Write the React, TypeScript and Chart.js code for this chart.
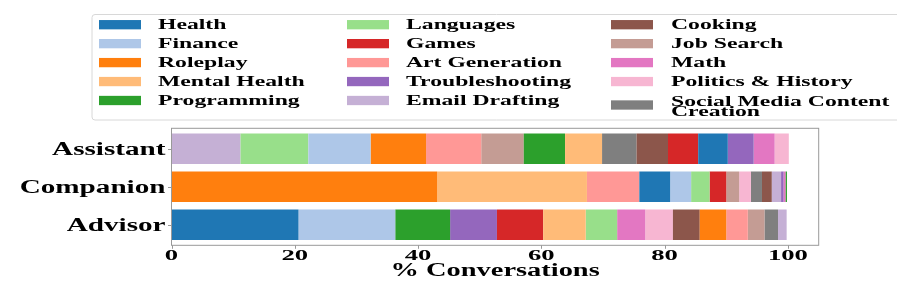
import { useEffect, useRef } from 'react';
import { Chart, registerables } from 'chart.js';

Chart.register(...registerables);

const rows = ['Assistant', 'Companion', 'Advisor'];

const categories = [
  'Health',
  'Finance',
  'Roleplay',
  'Mental Health',
  'Programming',
  'Languages',
  'Games',
  'Art Generation',
  'Troubleshooting',
  'Email Drafting',
  'Cooking',
  'Job Search',
  'Math',
  'Politics & History',
  'Social Media Content\nCreation',
];

const colors = [
  '#1f77b4', '#aec7e8', '#ff7f0e', '#ffbb78', '#2ca02c',
  '#98df8a', '#d62728', '#ff9896', '#9467bd', '#c5b0d5',
  '#8c564b', '#c49c94', '#e377c2', '#f7b6d2', '#7f7f7f',
];

// % of conversations per category (same order as categories)
const assistantValues = [4.8, 10.1, 9.0, 6.0, 6.7, 11.0, 4.9, 8.95, 4.2, 11.2, 5.1, 6.9, 3.4, 2.3, 5.6];
const companionValues = [5.0, 3.4, 43.1, 24.3, 0.2, 3.0, 2.7, 8.5, 0.4, 1.5, 1.6, 2.1, 0.35, 1.9, 1.8];
const advisorValues = [20.6, 15.7, 4.3, 6.9, 8.9, 5.1, 7.5, 3.5, 7.6, 1.4, 4.35, 2.7, 4.55, 4.5, 2.2];

const xTicks = [0, 20, 40, 60, 80, 100];
const xTitle = '% Conversations';

// each row is stacked largest-first
function stackRow(values: number[]): [number, number][] {
  const order = values.map((_, i) => i).sort((a, b) => values[b] - values[a]);
  const spans: [number, number][] = new Array(values.length);
  let acc = 0;
  for (const i of order) {
    spans[i] = [acc, acc + values[i]];
    acc += values[i];
  }
  return spans;
}

const FONT_FAMILY = '"Liberation Serif", "Times New Roman", serif';

function fontOf(size: number) {
  return `bold ${size}px ${FONT_FAMILY}`;
}

function scaleFor(ctx: CanvasRenderingContext2D, size: number, ref: string, target: number) {
  ctx.save();
  ctx.font = fontOf(size);
  const w = ctx.measureText(ref).width;
  ctx.restore();
  return w > 0 ? target / w : 1;
}

function drawText(
  ctx: CanvasRenderingContext2D,
  text: string,
  x: number,
  y: number,
  size: number,
  sx: number,
  align: CanvasTextAlign,
) {
  ctx.save();
  ctx.font = fontOf(size);
  ctx.fillStyle = '#000';
  ctx.textAlign = align;
  ctx.textBaseline = 'alphabetic';
  ctx.translate(x, y);
  ctx.scale(sx, 1);
  ctx.fillText(text, 0, 0);
  ctx.restore();
}

const decorPlugin = {
  id: 'decor',
  afterDraw(chart: any) {
    const ctx: CanvasRenderingContext2D = chart.ctx;
    const { left, right, top, bottom } = chart.chartArea;
    const xs = chart.scales.x;
    const ys = chart.scales.y;

    // axes box
    ctx.save();
    ctx.strokeStyle = '#999999';
    ctx.lineWidth = 1;
    ctx.strokeRect(left, top, right - left, bottom - top);
    // tick marks
    ctx.beginPath();
    for (const v of xTicks) {
      const px = Math.round(xs.getPixelForValue(v)) + 0.5;
      ctx.moveTo(px, bottom);
      ctx.lineTo(px, bottom + 3.5);
    }
    rows.forEach((_, i) => {
      const py = Math.round(ys.getPixelForValue(i)) + 0.5;
      ctx.moveTo(left - 3.5, py);
      ctx.lineTo(left, py);
    });
    ctx.stroke();
    ctx.restore();

    // y labels
    const ySize = 18;
    const ySx = scaleFor(ctx, ySize, 'Assistant', 113.4);
    rows.forEach((r, i) => {
      const py = ys.getPixelForValue(i);
      drawText(ctx, r, left - 6, py + 6.2, ySize, ySx, 'right');
    });

    // x tick labels
    const tSize = 14;
    const tSx = scaleFor(ctx, tSize, '100', 40);
    for (const v of xTicks) {
      drawText(ctx, String(v), xs.getPixelForValue(v), 260, tSize, tSx, 'center');
    }

    // x title
    const tiSx = scaleFor(ctx, 18, xTitle, 209.3);
    drawText(ctx, xTitle, (left + right) / 2, 275.5, 18, tiSx, 'center');

    // legend
    ctx.save();
    ctx.fillStyle = '#ffffff';
    ctx.strokeStyle = '#d8d8d8';
    ctx.lineWidth = 1;
    ctx.beginPath();
    (ctx as any).roundRect(92, 14.5, 830, 105.5, 3);
    ctx.fill();
    ctx.stroke();
    ctx.restore();

    const lSize = 14;
    const lSx = scaleFor(ctx, lSize, 'Mental Health', 146.7);
    const swatchX = [99, 347, 611];
    const textX = [158, 406, 671];
    categories.forEach((c, k) => {
      const col = Math.floor(k / 5);
      const row = k % 5;
      const cy = 24.7 + row * 18.95;
      const lines = c.split('\n');
      const swCy = lines.length > 1 ? cy + 4.5 : cy;
      ctx.save();
      ctx.fillStyle = colors[k];
      ctx.fillRect(swatchX[col], swCy - 4.65, 42, 9.3);
      ctx.restore();
      if (lines.length > 1) {
        drawText(ctx, lines[0], textX[col], cy + 5.2, lSize, lSx, 'left');
        drawText(ctx, lines[1], textX[col], cy + 15.5, lSize, lSx, 'left');
      } else {
        drawText(ctx, lines[0], textX[col], cy + 4.65, lSize, lSx, 'left');
      }
    });
  },
};

export default function App() {
  const canvasRef = useRef<HTMLCanvasElement | null>(null);

  useEffect(() => {
    const canvas = canvasRef.current;
    if (!canvas) return;
    const spans = [stackRow(assistantValues), stackRow(companionValues), stackRow(advisorValues)];
    const chart = new Chart(canvas, {
      type: 'bar',
      data: {
        datasets: categories.map((c, k) => ({
          label: c,
          data: rows.map((_, i) => ({ x: spans[i][k], y: i })),
          backgroundColor: colors[k],
          borderWidth: 0,
          grouped: false,
          barPercentage: 0.8,
          categoryPercentage: 1,
        })) as any,
      },
      options: {
        indexAxis: 'y',
        animation: false,
        responsive: false,
        devicePixelRatio: 1,
        layout: { padding: { top: 128.3, right: 78.3, left: 0, bottom: 0 } },
        plugins: {
          legend: { display: false },
          tooltip: { enabled: false },
        },
        scales: {
          x: {
            type: 'linear',
            min: 0,
            max: 105,
            offset: false,
            grid: { display: false, offset: false },
            border: { display: false },
            ticks: { display: false },
            afterBuildTicks: (s: any) => {
              s.ticks = xTicks.map((v) => ({ value: v }));
            },
            afterFit: (s: any) => {
              s.height = 48.7;
            },
          },
          y: {
            type: 'linear',
            min: -0.54,
            max: 2.54,
            reverse: true,
            offset: false,
            grace: 0,
            grid: { display: false, offset: false },
            border: { display: false },
            ticks: { display: false },
            afterBuildTicks: (s: any) => {
              s.ticks = rows.map((_, i) => ({ value: i }));
            },
            afterFit: (s: any) => {
              s.width = 171.5;
            },
          },
        },
      } as any,
      plugins: [decorPlugin],
    });
    return () => chart.destroy();
  }, []);

  return (
    <div style={{ position: 'fixed', left: 0, top: 0, width: 897, height: 294, background: '#fff' }}>
      <canvas ref={canvasRef} width={897} height={294} style={{ display: 'block', width: 897, height: 294 }} />
    </div>
  );
}
